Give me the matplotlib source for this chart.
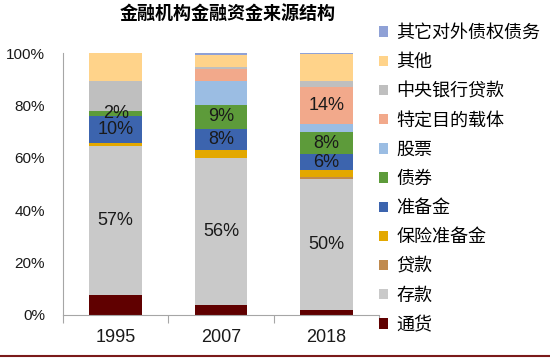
import matplotlib
matplotlib.use("Agg")
import matplotlib.pyplot as plt
from matplotlib.lines import Line2D
import numpy as np

plt.rcParams["font.family"] = ["Noto Sans CJK SC", "DejaVu Sans"]
NUM_FONT = ["Liberation Sans Narrow", "Liberation Sans", "DejaVu Sans"]

# ---------- donnees (en %) ----------
years = ["1995", "2007", "2018"]
series = ["通货", "存款", "贷款", "保险准备金", "准备金", "债券", "股票",
          "特定目的载体", "中央银行贷款", "其他", "其它对外债权债务"]
tongh = [7.6, 3.9, 2.1]
cunk = [57.0, 56.2, 49.7]
daik = [0.0, 0.0, 0.8]
baoxian = [1.0, 2.8, 2.7]
zhunbei = [10.4, 8.2, 6.3]
zhaiq = [2.0, 9.2, 8.2]
gupiao = [0.0, 9.3, 3.2]
spv = [0.0, 4.3, 14.0]
yanghang = [11.4, 1.0, 2.5]
qita = [10.6, 4.4, 10.1]
duiwai = [0.0, 0.7, 0.4]
values = [tongh, cunk, daik, baoxian, zhunbei, zhaiq, gupiao, spv, yanghang, qita, duiwai]
colors = ["#600000", "#C9C9C9", "#C08A4E", "#E3A800", "#3C64AE", "#5D9B3A",
          "#9BBDE3", "#F2A98B", "#BFBFBF", "#FFD38A", "#8FA1D6"]
# segments etiquetes : serie -> indices des annees
labeled = {"存款": [0, 1, 2], "准备金": [0, 1, 2], "债券": [0, 1, 2], "特定目的载体": [2]}

fig = plt.figure(figsize=(5.5, 3.61), dpi=100)
W, H = 550, 361
ax = fig.add_axes([63 / W, (H - 315) / H, 316 / W, (315 - 53.3) / H])

x = np.arange(len(years))
bottom = np.zeros(len(years))
handles = []
for name, vals, col in zip(series, values, colors):
    vals = np.array(vals)
    b = ax.bar(x, vals, 0.5, bottom=bottom, color=col, label=name, linewidth=0)
    handles.append(b)
    for i in labeled.get(name, []):
        ax.text(x[i], bottom[i] + vals[i] / 2, f"{vals[i]:.0f}%", ha="center", va="center",
                fontsize=13, family=NUM_FONT, color="#1a1a1a")
    bottom += vals

ax.set_xlim(-0.5, 2.5)
ax.set_ylim(0, 100)
ax.set_yticks([0, 20, 40, 60, 80, 100])
ax.set_yticklabels([f"{v}%" for v in [0, 20, 40, 60, 80, 100]], family=NUM_FONT, fontsize=11)
ax.set_xticks(x)
ax.set_xticklabels(years, family=NUM_FONT, fontsize=13)
ax.set_xticks([-0.5, 0.5, 1.5, 2.5], minor=True)
ax.tick_params(axis="y", length=0, pad=13, colors="#1a1a1a")
ax.tick_params(axis="x", which="major", length=0, pad=10, colors="#1a1a1a")
ax.tick_params(axis="x", which="minor", length=6, color="#A6A6A6", width=0.8)
for s in ("top", "right"):
    ax.spines[s].set_visible(False)
for s in ("left", "bottom"):
    ax.spines[s].set_color("#A6A6A6")
    ax.spines[s].set_linewidth(0.8)

fig.text(228 / W, 1 - 13 / H, "金融机构金融资金来源结构", ha="center", va="center",
         fontsize=13, fontweight="bold")

fig.legend(handles[::-1], series[::-1], loc="upper left",
           bbox_to_anchor=(379 / W, 1 - 24 / H), frameon=False, fontsize=13,
           handlelength=0.5, handleheight=0.5, handletextpad=0.45,
           labelspacing=0.62, borderpad=0, borderaxespad=0)

fig.add_artist(Line2D([0, 1], [1 - 355.5 / H] * 2, color="#7A1A1A", lw=1.5,
                      transform=fig.transFigure))

fig.savefig("out.png", dpi=100)
